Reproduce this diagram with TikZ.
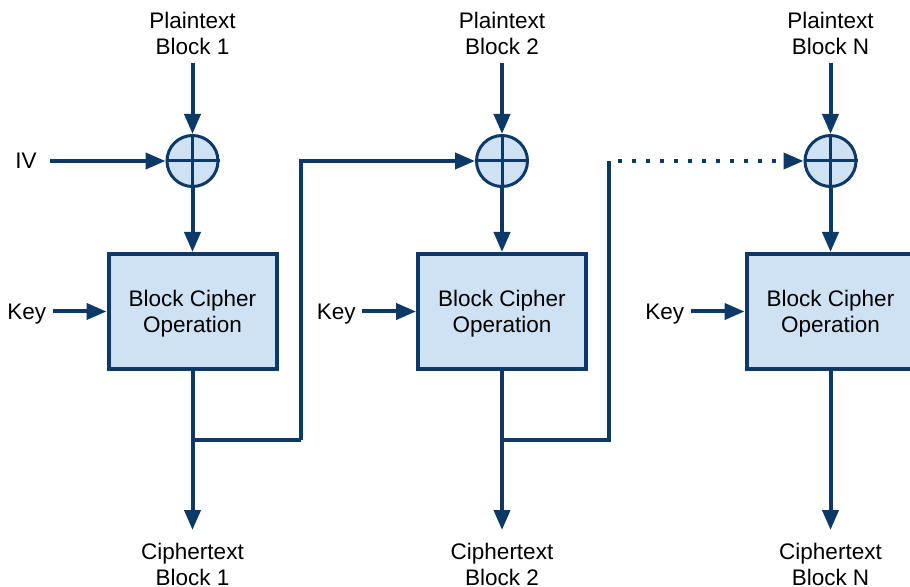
\documentclass[tikz,border=0pt]{standalone}
\usepackage{fontspec}
\setmainfont{Liberation Sans}
\usetikzlibrary{arrows.meta,positioning}
\definecolor{cbcnavy}{RGB}{12,57,104}
\definecolor{cbcfill}{RGB}{207,226,243}

\begin{document}
\begin{tikzpicture}[
  x=0.5pt, y=-0.5pt,
  flow/.style={line width=2pt, cbcnavy},
  arrowflow/.style={flow, -{Triangle[length=10pt,width=8pt]}},
  cipherbox/.style={draw=cbcnavy, line width=2pt, fill=cbcfill, minimum width=84pt,
    minimum height=57.5pt, inner sep=0pt, align=center, text depth=0pt,
    font=\fontsize{11.25}{12.75}\selectfont},
  xorgate/.style={circle, draw=cbcnavy, line width=1.5pt, fill=cbcfill,
    minimum size=25.5pt, inner sep=0pt},
  blocktext/.style={align=center, inner xsep=5pt, inner ysep=4pt,
    font=\fontsize{11.25}{12.75}\selectfont},
  keytext/.style={inner sep=3pt, text depth=0pt, font=\fontsize{11.25}{12.75}\selectfont}
]
  % Fix the frame to the reference size (the third box runs off the right edge)
  \useasboundingbox (0,0) rectangle (910,587);

  % XOR gates and cipher boxes
  \node[xorgate] (xor1) at (192.5,161) {};
  \node[xorgate] (xor2) at (502,161) {};
  \node[xorgate] (xor3) at (830.5,161) {};
  \node[cipherbox] (enc1) at (192.5,311.5) {Block Cipher\\Operation};
  \node[cipherbox] (enc2) at (502,311.5) {Block Cipher\\Operation};
  \node[cipherbox] (enc3) at (830.5,311.5) {Block Cipher\\Operation};

  % Cross inside each XOR circle
  \draw[cbcnavy, line width=1.5pt] (xor1.north) -- (xor1.south) (xor1.west) -- (xor1.east);
  \draw[cbcnavy, line width=1.5pt] (xor2.north) -- (xor2.south) (xor2.west) -- (xor2.east);
  \draw[cbcnavy, line width=1.5pt] (xor3.north) -- (xor3.south) (xor3.west) -- (xor3.east);

  % Plaintext and ciphertext labels
  \node[blocktext, anchor=south] (pt1) at (192.5,63) {Plaintext\\Block 1};
  \node[blocktext, anchor=south] (pt2) at (502,63) {Plaintext\\Block 2};
  \node[blocktext, anchor=south] (pt3) at (830.5,63) {Plaintext\\Block N};
  \node[blocktext, inner ysep=6.5pt, anchor=north] (ct1) at (192.5,530) {Ciphertext\\Block 1};
  \node[blocktext, inner ysep=6.5pt, anchor=north] (ct2) at (502,530) {Ciphertext\\Block 2};
  \node[blocktext, inner ysep=6.5pt, anchor=north] (ct3) at (830.5,530) {Ciphertext\\Block N};

  % IV and key inputs
  \node[keytext, inner xsep=6.5pt, anchor=east] (iv) at (50,161) {IV};
  \node[keytext, left=27pt of enc1] (key1) {Key};
  \node[keytext, left=27pt of enc2] (key2) {Key};
  \node[keytext, left=27pt of enc3] (key3) {Key};

  % Taps and bends of the chaining lines
  \coordinate (tap1) at (192.5,440);
  \coordinate (bend1) at (301,440);
  \coordinate (tap2) at (502,440);
  \coordinate (bend2) at (609,440);
  \coordinate (top2) at (609,161);
  \coordinate (gap2) at (618,161);

  % Stage 1
  \draw[arrowflow] (pt1) -- (xor1);
  \draw[arrowflow] (iv) -- (xor1);
  \draw[arrowflow] (xor1) -- (enc1);
  \draw[arrowflow] (key1) -- (enc1);
  \draw[arrowflow] (enc1) -- (ct1);

  % Stage 2, fed by the first ciphertext
  \draw[flow] (tap1) -- (bend1);
  \draw[arrowflow] (bend1) |- (xor2);
  \draw[arrowflow] (pt2) -- (xor2);
  \draw[arrowflow] (xor2) -- (enc2);
  \draw[arrowflow] (key2) -- (enc2);
  \draw[arrowflow] (enc2) -- (ct2);

  % Stage N, dotted to show the skipped blocks
  \draw[flow] (tap2) -- (bend2) -- (top2);
  \draw[arrowflow, dash pattern=on 2pt off 5pt] (gap2) -- (xor3);
  \draw[arrowflow] (pt3) -- (xor3);
  \draw[arrowflow] (xor3) -- (enc3);
  \draw[arrowflow] (key3) -- (enc3);
  \draw[arrowflow] (enc3) -- (ct3);

\end{tikzpicture}
\end{document}
